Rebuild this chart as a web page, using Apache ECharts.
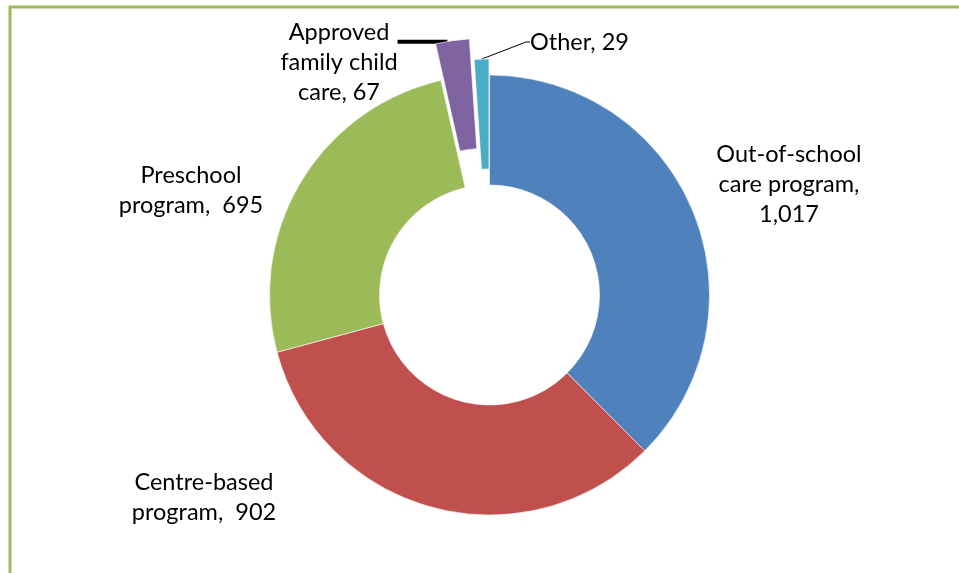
<!DOCTYPE html>
<html>
<head>
<meta charset="utf-8">
<script src="https://cdn.jsdelivr.net/npm/echarts@6/dist/echarts.min.js"></script>
<style>
    html, body { margin: 0; padding: 0; background: #fff; }
    #chart { width: 959px; height: 573px; }
</style>
</head>
<body>
<div id="chart"></div>
<script>
    // categories and values
    var categories = ['Out-of-school\ncare program,\n1,017', 'Centre-based\nprogram,  902', 'Preschool\nprogram,  695', 'Approved\nfamily child\ncare, 67', 'Other, 29']
    var values = [1017, 902, 695, 67, 29]
    var colors = ['#4F81BD', '#C0504D', '#9BBB59', '#8064A2', '#4BACC6']
    // how far each slice is pulled out of the ring (px)
    var explode = [0, 0, 0, 37, 16]

    // where the labels sit (pixels), like the excel original
    var labelSpots = [
        {x: 789, y: 184, align: 'center'},
        {x: 204, y: 497, align: 'center'},
        {x: 191, y: 190, align: 'center'},
        {x: 339, y: 62, align: 'center'},
        {x: 530, y: 42, align: 'left'}
    ]
    var leaderWidth = [0, 0, 0, 4, 1]
    var APPROVED = 3

    var CX = 489.5, CY = 295

    var textStyle = {
        color: '#000',
        fontFamily: 'Lato',
        fontSize: 23.5,
        lineHeight: 30
    }

    var total = values.reduce(function (a, b) { return a + b }, 0)

    // centre of the ring that holds slice i, pushed out along its mid angle
    function centreFor(i) {
        var before = 0
        for (var k = 0; k < i; k++) before += values[k]
        var a = (before + values[i] / 2) / total * Math.PI * 2
        return [CX + explode[i] * Math.sin(a), CY - explode[i] * Math.cos(a)]
    }

    // data for a ring showing only the slices in `show`
    function buildData(show) {
        return values.map(function (v, i) {
            var on = show.indexOf(i) >= 0
            return {
                name: categories[i],
                value: v,
                itemStyle: {color: colors[i], opacity: on ? 1 : 0},
                label: {show: on},
                labelLine: {
                    show: on && leaderWidth[i] > 0,
                    length: 4,
                    length2: 4,
                    lineStyle: {color: '#000', width: leaderWidth[i]}
                }
            }
        })
    }

    function spot(params) {
        var s = labelSpots[params.dataIndex]
        var out = {x: s.x, y: s.y, align: s.align, verticalAlign: 'middle'}
        // the approved label gets a flat leader, as in the original
        if (params.dataIndex === APPROVED && params.labelLinePoints) {
            var p0 = params.labelLinePoints[0]
            var right = s.x + params.labelRect.width / 2
            var y = p0[1] + 1
            out.labelLinePoints = [[p0[0] - 5, y], [right, y], [right, y]]
        }
        return out
    }

    function ring(show, centre) {
        return {
            type: 'pie',
            silent: true,
            center: centre,
            radius: [110, 220],
            startAngle: 90,
            clockwise: true,
            animation: false,
            avoidLabelOverlap: false,
            itemStyle: {borderColor: '#fff', borderWidth: 0.6},
            label: Object.assign({position: 'outside', formatter: '{b}'}, textStyle),
            labelLayout: spot,
            data: buildData(show)
        }
    }

    var series = [ring([0, 1, 2], [CX, CY])]
    values.forEach(function (v, i) {
        if (explode[i] > 0) series.push(ring([i], centreFor(i)))
    })

    var myChart = echarts.init(document.getElementById('chart'))
    myChart.setOption({
        backgroundColor: '#fff',
        graphic: [{
            type: 'rect',
            shape: {x: 10, y: 7, width: 1200, height: 1200},
            style: {fill: 'none', stroke: '#9BBB59', lineWidth: 3},
            silent: true
        }],
        series: series
    })
</script>
</body>
</html>
